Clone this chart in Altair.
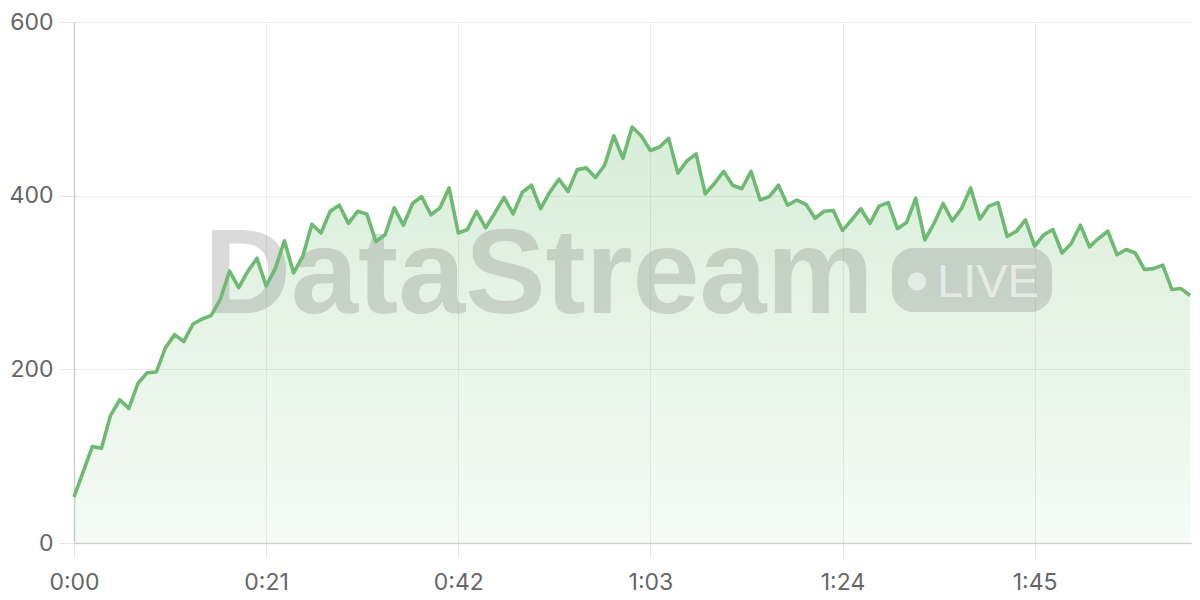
import altair as alt
import pandas as pd

# seconds since start (one sample per second)
seconds = list(range(0, 123))
values = [
    53, 82, 111, 109, 147, 165, 155, 184, 196, 197,
    225, 240, 232, 252, 258, 262, 281, 313, 294, 313,
    328, 296, 316, 348, 311, 330, 367, 357, 382, 389,
    368, 382, 379, 347, 355, 386, 366, 391, 399, 378,
    386, 409, 357, 361, 382, 363, 380, 398, 379, 404,
    412, 385, 404, 419, 405, 430, 432, 421, 435, 469,
    443, 479, 469, 452, 456, 466, 426, 440, 448, 402,
    414, 428, 412, 408, 428, 395, 399, 412, 389, 395,
    390, 374, 382, 383, 360, 372, 385, 368, 388, 392,
    362, 369, 397, 349, 368, 391, 371, 385, 409, 373,
    388, 392, 353, 359, 372, 342, 355, 361, 334, 345,
    366, 341, 351, 359, 332, 338, 334, 315, 316, 320,
    292, 293, 285,
]
x_ticks = [0, 21, 42, 63, 84, 105]
y_ticks = [0, 200, 400, 600]
watermark_title = "DataStream"
watermark_badge = "LIVE"

df = pd.DataFrame({"t": seconds, "v": values})

W, H = 1118, 521
FONT = "Inter"

x_enc = alt.X(
    "t:Q",
    scale=alt.Scale(domain=[0, 122.2], nice=False, zero=False),
    axis=alt.Axis(
        values=x_ticks,
        labelExpr="floor(datum.value/60) + ':' + (datum.value % 60 < 10 ? '0' : '') + (datum.value % 60)",
        title=None,
        grid=True,
        tickSize=15,
        labelPadding=13,
        labelFlush=False,
    ),
)
y_enc = alt.Y(
    "v:Q",
    scale=alt.Scale(domain=[0, 600], nice=False),
    axis=alt.Axis(values=y_ticks, title=None, grid=True, tickSize=15, labelPadding=6),
)

base = alt.Chart(df)

area = base.mark_area(
    line=False,
    color=alt.Gradient(
        gradient="linear",
        stops=[
            alt.GradientStop(color="rgba(102,187,106,0.26)", offset=0),
            alt.GradientStop(color="rgba(102,187,106,0.06)", offset=1),
        ],
        x1=1, x2=1, y1=0, y2=1,
    ),
    interpolate="linear",
).encode(x=x_enc, y=y_enc)

wm_color = "#7a7a7a"
wm_op = 0.27

wm_text = alt.Chart(pd.DataFrame({"s": [watermark_title]})).mark_text(
    font="Liberation Sans", fontWeight="bold", fontSize=120.5, align="left",
    baseline="alphabetic", color=wm_color, opacity=wm_op,
).encode(text="s:N", x=alt.value(130), y=alt.value(291))

badge = alt.Chart(pd.DataFrame({"s": [watermark_badge]})).mark_rect(
    cornerRadius=22, color=wm_color, opacity=wm_op,
).encode(x=alt.value(818), x2=alt.value(978), y=alt.value(226), y2=alt.value(290))

dot = alt.Chart(pd.DataFrame({"s": [watermark_badge]})).mark_circle(
    color="white", opacity=0.55, size=340,
).encode(x=alt.value(843), y=alt.value(259.5))

badge_text = alt.Chart(pd.DataFrame({"s": [watermark_badge]})).mark_text(
    font="Liberation Sans", fontSize=47, align="left", baseline="alphabetic",
    color="white", opacity=0.55,
).encode(text="s:N", x=alt.value(863), y=alt.value(275))

line = base.mark_line(color="#6fba73", strokeWidth=3.6, strokeJoin="round").encode(
    x="t:Q", y="v:Q"
)

chart = alt.layer(area, wm_text, badge, dot, badge_text, line).properties(
    width=W, height=H,
    autosize=alt.AutoSizeParams(type="none"),
    padding={"left": 66, "top": 14, "right": 0, "bottom": 57},
).configure_view(stroke=None).configure_axis(
    labelFont=FONT, labelFontSize=23, labelColor="#666666",
    gridColor="#ebebeb", tickColor="#e6e6e6", domainColor="#cfcfcf",
    gridWidth=1, tickWidth=1, domainWidth=1.5,
)

chart.save("out.html", embed_options={"renderer": "svg", "actions": False})
